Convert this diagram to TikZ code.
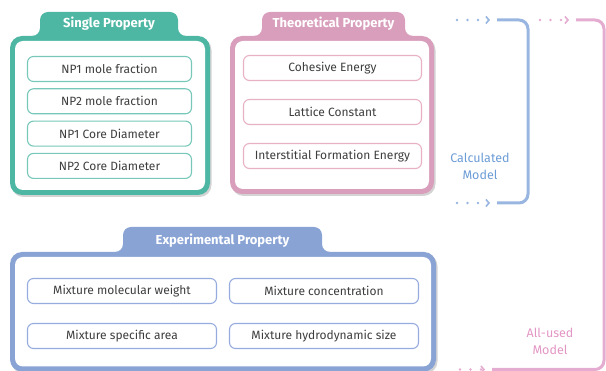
\documentclass[tikz,border=0pt]{standalone}
\usepackage{fontspec}
\setmainfont{Fira Sans}
\usetikzlibrary{positioning,arrows.meta,shadows}

\definecolor{singlec}{RGB}{78,183,164}
\definecolor{singlei}{RGB}{120,200,186}
\definecolor{theoc}{RGB}{216,158,188}
\definecolor{theoi}{RGB}{232,178,196}
\definecolor{expc}{RGB}{137,163,213}
\definecolor{expi}{RGB}{150,172,222}
\definecolor{calcc}{RGB}{152,182,224}
\definecolor{calct}{RGB}{108,156,214}
\definecolor{allc}{RGB}{228,172,208}
\definecolor{allt}{RGB}{226,150,196}
\definecolor{textc}{RGB}{62,62,62}

\begin{document}
\begin{tikzpicture}[x=1pt,y=-1pt,
  item/.style={draw,rounded corners=6pt,line width=1.1pt,fill=white,
    minimum height=25pt,inner sep=0pt,text=textc,
    font=\fontsize{12}{14}\selectfont},
  title/.style={text=white,font=\bfseries\fontsize{13}{15}\selectfont},
  frame/.style={rounded corners=12pt,drop shadow={shadow xshift=1.5pt,shadow yshift=-2pt,opacity=0.35}},
  dots/.style={line width=2.6pt,line cap=round,dash pattern=on 0pt off 10.5pt,
    -{Straight Barb[length=3pt,width=7pt,line width=1.6pt]},shorten >=7pt},
  bracket/.style={line width=3pt,rounded corners=9pt},
  model/.style={align=center,font=\fontsize{12.5}{17}\selectfont}
]
\useasboundingbox (0,0) rectangle (606,371);

% single property
\fill[singlec,rounded corners=8pt] (28,44) -- (28,36) -- (40,36) -- (40,12) -- (178,12) -- (178,36) -- (190,36) -- (190,44) -- cycle;
\fill[singlec,frame] (10,36) rectangle (210,195);
\fill[white,rounded corners=8pt] (15,41) rectangle (205,190);
\node[title] (singlet) at (109,24) {Single Property};
\node[item,draw=singlei,minimum width=164pt] (np1f) at (109.5,69) {NP1 mole fraction};
\node[item,draw=singlei,minimum width=164pt,below=6.2pt of np1f] (np2f) {NP2 mole fraction};
\node[item,draw=singlei,minimum width=164pt,below=6.2pt of np2f] (np1d) {NP1 Core Diameter};
\node[item,draw=singlei,minimum width=164pt,below=6.2pt of np1d] (np2d) {NP2 Core Diameter};

% theoretical property
\fill[theoc,rounded corners=8pt] (250,44) -- (250,36) -- (262,36) -- (262,12) -- (405,12) -- (405,36) -- (417,36) -- (417,44) -- cycle;
\fill[theoc,frame] (230,36) rectangle (434,194);
\fill[white,rounded corners=8pt] (235,41) rectangle (429,189);
\node[title] (theot) at (333.5,24) {Theoretical Property};
\node[item,draw=theoi,minimum width=178pt] (cohe) at (332.5,68) {Cohesive Energy};
\node[item,draw=theoi,minimum width=178pt,below=17.9pt of cohe] (latt) {Lattice Constant};
\node[item,draw=theoi,minimum width=178pt,below=17.9pt of latt] (inter) {Interstitial Formation Energy};

% experimental property
\fill[expc,rounded corners=8pt] (111,260) -- (111,252) -- (123,252) -- (123,227) -- (322,227) -- (322,252) -- (334,252) -- (334,260) -- cycle;
\fill[expc,frame] (10,252) rectangle (436,371.5);
\fill[white,rounded corners=8pt] (15,257) rectangle (431,366.5);
\node[title] (expt) at (222.5,240.5) {Experimental Property};
\node[item,draw=expi,minimum width=189pt] (mmw) at (122,291) {Mixture molecular weight};
\node[item,draw=expi,minimum width=189pt,right=11.9pt of mmw] (mcon) {Mixture concentration};
\node[item,draw=expi,minimum width=189pt,below=18.9pt of mmw] (msa) {Mixture specific area};
\node[item,draw=expi,minimum width=189pt,right=11.9pt of msa] (mhs) {Mixture hydrodynamic size};

% calculated model
\coordinate (ctop) at (497,20);
\coordinate (cbot) at (497,203);
\draw[calcc,bracket] (ctop) -- (528,20) -- (528,203) -- (cbot);
\draw[calcc,dots] (457,20) -- (ctop);
\draw[calcc,dots] (457,203) -- (cbot);
\node[model,text=calct] (calc) at (480,166) {Calculated\\Model};

% all-used model
\coordinate (atop) at (576,20);
\coordinate (abot) at (492,369.5);
\draw[allc,bracket] (atop) -- (604,20) -- (604,369.5) -- (abot);
\draw[allc,dots] (540,20) -- (atop);
\draw[allc,dots] (460,369.5) -- (abot);
\node[model,text=allt] (allm) at (550,341) {All-used\\Model};
\end{tikzpicture}
\end{document}
